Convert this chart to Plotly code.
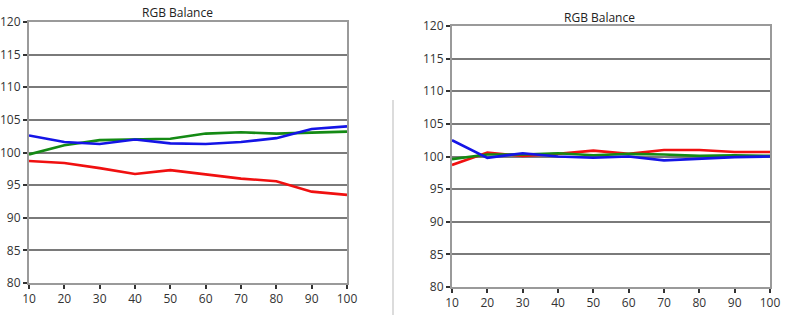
import plotly.graph_objects as go

x_vals = [10, 20, 30, 40, 50, 60, 70, 80, 90, 100]

left_red = [98.7, 98.4, 97.6, 96.7, 97.3, 96.6, 96.0, 95.6, 94.0, 93.5]
left_green = [99.7, 101.1, 101.9, 102.0, 102.1, 102.9, 103.1, 102.9, 103.0, 103.2]
left_blue = [102.6, 101.6, 101.3, 102.0, 101.4, 101.3, 101.6, 102.2, 103.6, 104.0]

right_red = [98.7, 100.6, 100.1, 100.4, 100.9, 100.4, 101.0, 101.0, 100.7, 100.7]
right_green = [99.6, 100.3, 100.3, 100.5, 100.2, 100.4, 100.3, 100.1, 100.2, 100.1]
right_blue = [102.5, 99.8, 100.5, 100.0, 99.8, 100.0, 99.4, 99.7, 99.9, 100.0]

y_ticks = [80, 85, 90, 95, 100, 105, 110, 115, 120]
x_ticks = x_vals
title_text = "RGB Balance"

colors = {"red": "#f01010", "green": "#148a14", "blue": "#1414e6"}

fig = go.Figure()

def add_series(xa, ya, data):
    for name, vals in data:
        fig.add_trace(go.Scatter(x=x_vals, y=vals, mode="lines", xaxis=xa, yaxis=ya,
                                 line=dict(color=colors[name], width=2.6), showlegend=False))

add_series("x", "y", [("red", left_red), ("green", left_green), ("blue", left_blue)])
add_series("x2", "y2", [("red", right_red), ("green", right_green), ("blue", right_blue)])

font = dict(family="Open Sans, Noto Sans, sans-serif", size=12, color="#333333")

def xaxis(domain, anchor):
    return dict(domain=domain, anchor=anchor, range=[10, 100], tickvals=x_ticks,
                showgrid=False, zeroline=False, showline=True, linecolor="#9a9a9a",
                linewidth=2, mirror=True, ticks="outside", ticklen=4, tickcolor="#333333",
                tickwidth=1.5, tickfont=font, fixedrange=True, automargin=False)

def yaxis(domain, anchor):
    return dict(domain=domain, anchor=anchor, range=[80, 120], tickvals=y_ticks,
                showgrid=True, gridcolor="#7a7a7a", gridwidth=1.5, zeroline=False,
                showline=True, linecolor="#9a9a9a", linewidth=2, mirror=True,
                ticks="outside", ticklen=4, tickcolor="#333333", tickwidth=1.5,
                tickfont=font, fixedrange=True, automargin=False)

fig.update_layout(
    width=792, height=315,
    margin=dict(l=0, r=0, t=0, b=0, autoexpand=False),
    paper_bgcolor="white", plot_bgcolor="white",
    xaxis=xaxis([29 / 792, 347 / 792], "y"),
    yaxis=yaxis([1 - 283 / 315, 1 - 22 / 315], "x"),
    xaxis2=xaxis([452 / 792, 770 / 792], "y2"),
    yaxis2=yaxis([1 - 287 / 315, 1 - 26 / 315], "x2"),
    annotations=[
        dict(text=title_text, x=177 / 792, y=1 - 13 / 315, xref="paper", yref="paper",
             xanchor="center", yanchor="middle", showarrow=False,
             font=dict(family="Open Sans, sans-serif", size=12, color="#222222")),
        dict(text=title_text, x=599 / 792, y=1 - 17 / 315, xref="paper", yref="paper",
             xanchor="center", yanchor="middle", showarrow=False,
             font=dict(family="Open Sans, sans-serif", size=12, color="#222222")),
    ],
    shapes=[
        dict(type="line", xref="paper", yref="paper", x0=393 / 792, x1=393 / 792,
             y0=0, y1=1 - 100 / 315, line=dict(color="#d0d0d0", width=1.5)),
    ],
)

fig.write_html("out.html")
